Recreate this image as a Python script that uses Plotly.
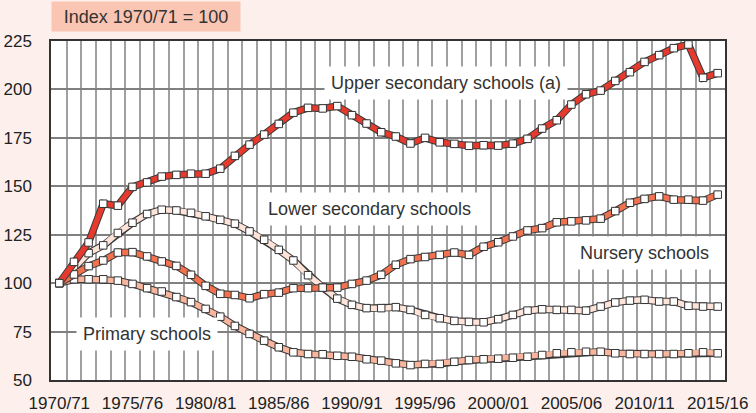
import plotly.graph_objects as go

years = [f"{y}/{(y + 1) % 100:02d}" for y in range(1970, 2016)]

upper = [100, 111, 121, 141, 140, 149.7, 152, 155, 155.9, 156.5, 156.5, 159.1, 165.7, 171.5,
         176.7, 182.2, 188, 190.5, 190.2, 191.4, 186.7, 182.4, 177.9, 175.7, 172.1, 175, 172.7,
         171.9, 170.9, 171.2, 171, 172, 174.5, 179.8, 184.1, 192.2, 197.5, 199.4, 204.4, 208.9,
         214.2, 217.7, 221.3, 223.2, 206, 208.4]
lower = [100, 107.8, 115.5, 119.5, 125.9, 131.2, 135.7, 137.9, 137.5, 136.3, 134.5, 132.7, 130.7,
         126.7, 122.4, 117.2, 111.7, 104.1, 97.7, 92, 88.8, 87.1, 87.1, 87.6, 86.2, 83.6, 81.9,
         80.5, 80, 79.8, 81.4, 83.6, 85.8, 86.5, 86.2, 86.2, 85.8, 87.9, 90, 91, 91.4, 90.5, 90.5,
         88.3, 87.9, 87.9]
nursery = [100, 104.5, 108.8, 111.7, 115.8, 116, 113.8, 111.2, 108.9, 104.3, 98.6, 94.5, 93.9,
           92.2, 94.3, 95.1, 97.4, 97.4, 97.7, 97.7, 99.6, 101.3, 104.3, 109.5, 112.4, 113.5,
           114.6, 115.8, 114.6, 118.8, 121.1, 124.1, 127.2, 128.4, 131.4, 131.9, 132.4, 133.3,
           137.2, 141.5, 143.5, 144.8, 143.1, 143.1, 142.6, 145.7]
primary = [100, 102, 102, 102, 101.3, 99.6, 97.4, 95.7, 92.8, 90.2, 86.7, 82.7, 77.9, 73.8, 70.3,
           66.9, 64.3, 63.4, 63.3, 62.5, 62, 60.7, 60, 58.6, 57.7, 58.3, 58.3, 59.4, 60.3, 60.7, 61,
           61.5, 62, 62.9, 63.8, 64.3, 64.6, 64.6, 63.8, 63.4, 63.4, 63.4, 63.4, 63.8, 64.3, 63.8]

series_names = ["Primary schools", "Lower secondary schools", "Nursery schools", "Upper secondary schools (a)"]
series_values = [primary, lower, nursery, upper]
series_colors = ["#f8b59d", "#fde3d8", "#f2714f", "#e53a2d"]

x_idx = list(range(len(years)))
label_idx = list(range(0, len(years), 5))
y_ticks = [50, 75, 100, 125, 150, 175, 200, 225]

fig = go.Figure()
for name, vals, col in zip(series_names, series_values, series_colors):
    fig.add_trace(go.Scatter(x=x_idx, y=vals, mode="lines", line=dict(color="#3a3a3a", width=7.5),
                             hoverinfo="skip", showlegend=False))
    fig.add_trace(go.Scatter(x=x_idx, y=vals, mode="lines+markers", name=name,
                             line=dict(color=col, width=5.5),
                             marker=dict(symbol="square", size=7.5, color="white",
                                         line=dict(color="#333333", width=1)),
                             showlegend=False))

font_txt = dict(family="Liberation Sans, Arial, sans-serif", size=18, color="#333333")
labels = [
    ("Upper secondary schools (a)", 26.4, 203.4),
    ("Lower secondary schools", 21.2, 138.4),
    ("Nursery schools", 40.0, 115.5),
    ("Primary schools", 6.0, 73.8),
]
for text, xx, yy in labels:
    fig.add_annotation(x=xx, y=yy, text=text, showarrow=False, font=font_txt,
                       bgcolor="white", borderpad=6)

fig.add_annotation(xref="paper", yref="paper", x=0, y=1.118, xanchor="left", yanchor="top",
                   text="Index 1970/71 = 100", showarrow=False, font=font_txt,
                   bgcolor="#fac5b2", width=180, height=21, borderpad=4)

tick_font = dict(family="Liberation Sans, Arial, sans-serif", size=17, color="#222222")
fig.update_xaxes(range=[-0.57, 45.5], tickmode="array", tickvals=label_idx,
                 ticktext=[years[i] for i in label_idx], showgrid=False, zeroline=False,
                 ticks="outside", ticklen=7, tickcolor="rgba(0,0,0,0)", tickfont=tick_font,
                 automargin=False,
                 showline=True, mirror=True, linecolor="#333333", linewidth=1.5,
                 minor=dict(tickmode="array", tickvals=[i + 0.5 for i in range(len(years) - 1)],
                            showgrid=True, gridcolor="#a0a0a0", gridwidth=1.6, ticks=""))
fig.update_yaxes(range=[50, 225], tickmode="array", tickvals=y_ticks, showgrid=True,
                 gridcolor="#808080", gridwidth=1.5, zeroline=False,
                 ticks="outside", ticklen=14, tickcolor="rgba(0,0,0,0)", tickfont=tick_font,
                 automargin=False,
                 showline=True, mirror=True, linecolor="#333333", linewidth=1.5)

fig.update_layout(width=756, height=413, margin=dict(l=51, r=31, t=41, b=33),
                  paper_bgcolor="#fdf0ec", plot_bgcolor="white")

fig.write_html("out.html", config={"displayModeBar": False},
               post_script="document.body.style.margin='0';document.body.style.overflow='hidden';")
